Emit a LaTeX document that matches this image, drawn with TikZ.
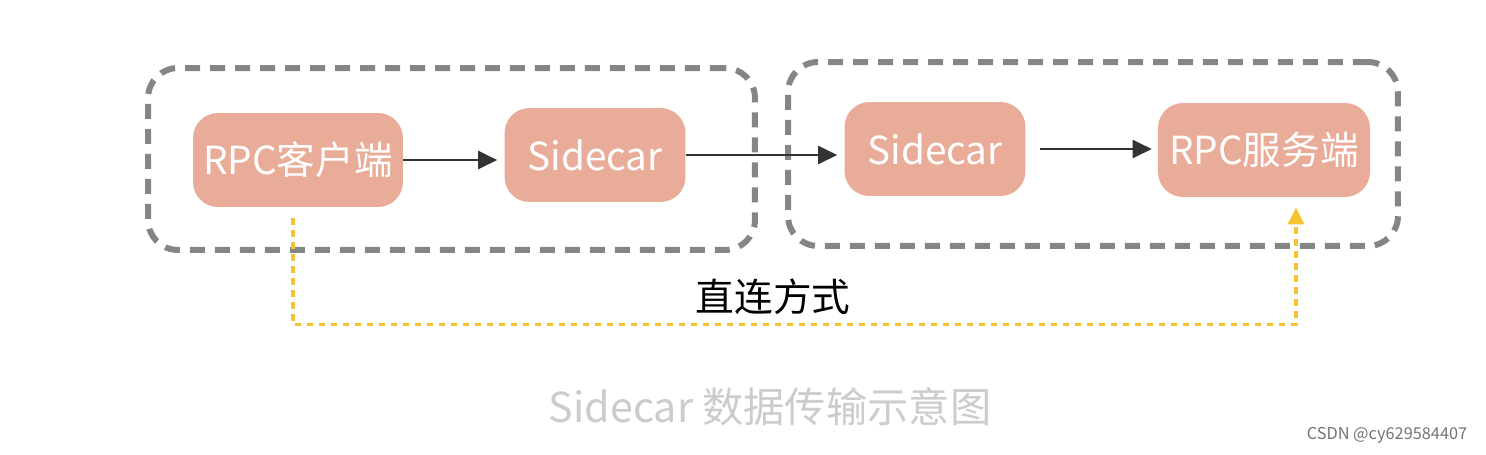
\documentclass[tikz,border=0pt]{standalone}
\usepackage{fontspec}
\setmainfont{Noto Sans CJK SC}
\newfontfamily\cjk{Noto Sans CJK SC}
\usetikzlibrary{arrows.meta,calc}
\definecolor{boxfill}{HTML}{E8AC99}
\definecolor{grpgray}{HTML}{858585}
\definecolor{linkyel}{HTML}{F5C433}
\definecolor{capgray}{HTML}{CCCCCC}
\begin{document}
\begin{tikzpicture}[
		x=0.02cm, y=-0.02cm,
		box/.style={fill=boxfill, rounded corners=0.5cm, inner sep=0pt,
		minimum height=1.88cm, text=white, font=\cjk\fontsize{22}{22}\selectfont},
		grp/.style={draw=grpgray, line width=0.12cm, rounded corners=0.6cm,
		dash pattern=on 0.3cm off 0.2cm, inner sep=0pt},
		flow/.style={line width=0.05cm, draw=black!80,
		-{Triangle[length=0.38cm,width=0.36cm]}},
		direct/.style={draw=linkyel, line width=0.07cm,
		dash pattern=on 0.13cm off 0.11cm,
		-{Triangle[length=0.34cm,width=0.32cm]}}
	]
		\useasboundingbox (0,0) rectangle (1486,454);

		% 两侧分组虚线框
		\node[grp, minimum width=12.14cm, minimum height=3.64cm] (grpA) at (451.5,159) {};
		\node[grp, minimum width=12.2cm, minimum height=3.68cm] (grpB) at (1093,154) {};

		% 四个节点
		\node[box, minimum width=4.2cm] (cli) at (298,160) {RPC客户端};
		\node[box, minimum width=3.62cm] (scA) at (595,155) {Sidecar};
		\node[box, minimum width=3.62cm] (scB) at (935,149) {Sidecar};
		\node[box, minimum width=4.24cm] (srv) at (1264,150) {RPC服务端};

		% 经 Sidecar 的调用
		\draw[flow, shorten >=0.14cm] (cli.east) -- (scA.west |- cli.east);
		\draw[flow, shorten >=0.14cm] (scA.east) -- (scB.west |- scA.east);
		\draw[flow, shorten <=0.28cm, shorten >=0.12cm] (scB.east) -- (srv.west |- scB.east);

		% 直连方式
		\coordinate (dirS) at ($(cli.south)+(-5,11)$);
		\coordinate (dirE) at ($(srv.south)+(32,10)$);
		\draw[direct] (dirS) -- ++(0,106) -| (dirE);
		\node[font=\cjk\fontsize{22}{22}\selectfont] (dirL) at (773,297) {直连方式};

		% 图注
		\node[text=capgray, font=\cjk\fontsize{23.5}{23.5}\selectfont] (cap) at (770,407) {Sidecar 数据传输示意图};
		\node[text=black!55, font=\fontsize{9.3}{9.3}\selectfont] (mark) at (1387,435) {CSDN @cy629584407};
\end{tikzpicture}
\end{document}
